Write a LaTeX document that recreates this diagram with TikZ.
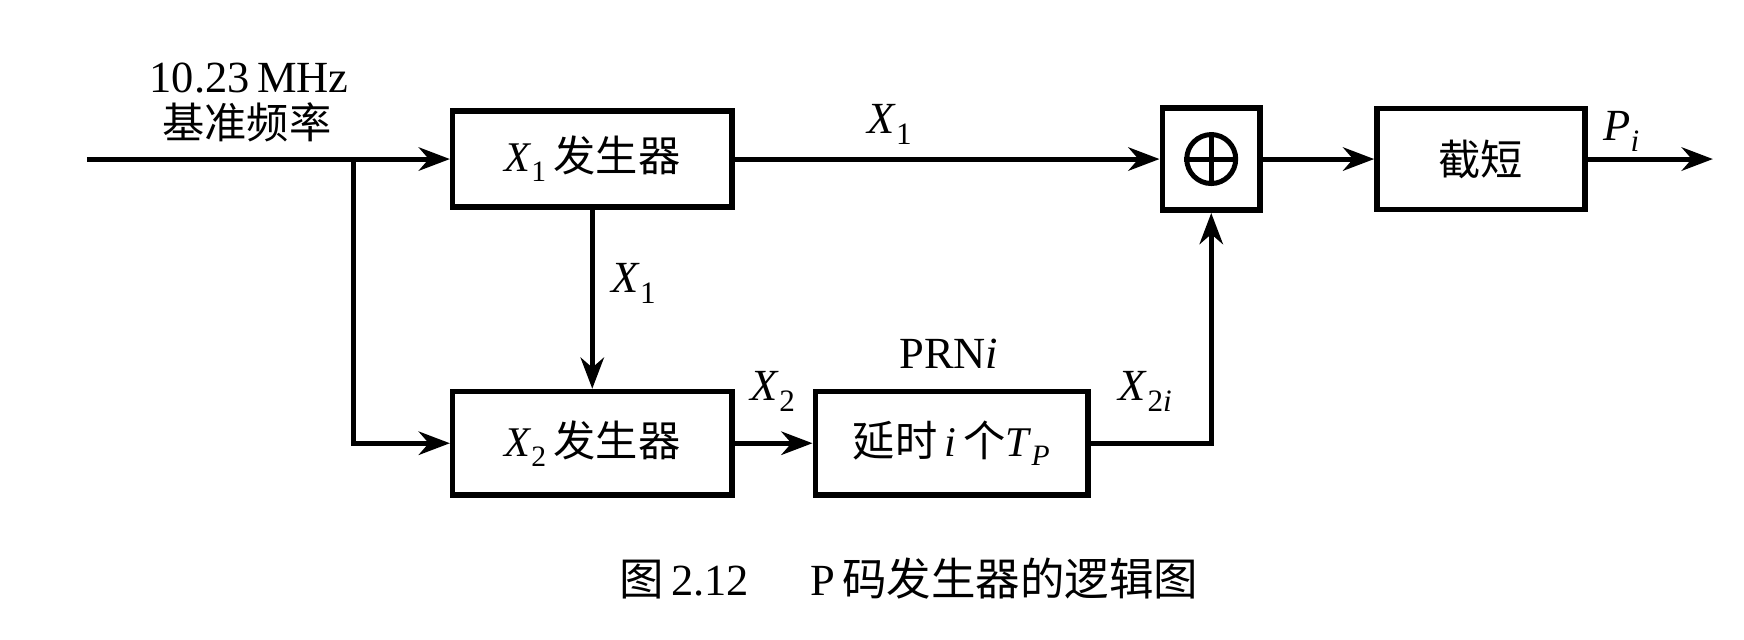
\documentclass[tikz,border=0pt]{standalone}
\usepackage{fontspec}
\setmainfont{Liberation Serif}
\newfontfamily\cjk{Noto Sans CJK SC}
\usetikzlibrary{arrows.meta}
\newcommand{\Vsub}[2]{\textit{#1}\textsubscript{#2}}
\begin{document}
\begin{tikzpicture}[x=1pt,y=-1pt,
  font=\fontsize{40}{48}\selectfont,
  blk/.style={draw, line width=5pt, inner sep=0pt, font=\fontsize{38}{46}\selectfont},
  wire/.style={line width=4.5pt},
  arr/.style={line width=4.5pt, -{Stealth[length=28pt,width=21pt,inset=9pt]}},
  lbl/.style={inner sep=0pt}]
\useasboundingbox (0,0) rectangle (1568,575);
% blocks
\node[blk, minimum width=251pt, minimum height=86pt] (g1) at (532.5,143) {\Vsub{X}{1}\,{\cjk 发生器}};
\node[blk, minimum width=88pt, minimum height=92pt] (xor) at (1089,143) {};
\node[blk, minimum width=187pt, minimum height=91pt] (cut) at (1331.5,143) {{\cjk 截短}};
\node[blk, minimum width=251pt, minimum height=93pt] (g2) at (532.5,398.5) {\Vsub{X}{2}\,{\cjk 发生器}};
\node[blk, minimum width=245pt, minimum height=93pt] (dly) at (855.5,398.5) {{\cjk 延时}\,\textit{i}\,{\cjk 个}\textit{T}\textsubscript{\textit{P}}};
% circle plus
\node[circle, draw, line width=4.5pt, minimum size=44pt, inner sep=0pt] (cp) at (xor.center) {};
\draw[wire] (cp.north) -- (cp.south);
\draw[wire] (cp.west) -- (cp.east);
% coordinates
\coordinate (in) at (78,143);
\coordinate (j) at (318,143);
\coordinate (out) at (1540,143);
% connectors
\draw[arr] (in) -- (g1.west);
\draw[arr] (j) |- (g2.west);
\draw[arr] (g1.east) -- (xor.west);
\draw[arr] (xor.east) -- (cut.west);
\draw[arr] (cut.east) -- (out);
\draw[arr] (g1.south) -- (g2.north);
\draw[arr] (g2.east) -- (dly.west);
\draw[arr] (dly.east) -| (xor.south);
% labels
\node[lbl] (lfreq) at (224,70) {10.23\,MHz};
\node[lbl, font=\fontsize{38}{46}\selectfont] (lbase) at (222,110) {{\cjk 基准频率}};
\node[lbl] (lx1a) at (800,112) {\Vsub{X}{1}};
\node[lbl] (lpi) at (1458,118) {\textit{P}\textsubscript{\textit{i}}};
\node[lbl] (lx1b) at (570,255) {\Vsub{X}{1}};
\node[lbl] (lx2) at (695,352) {\Vsub{X}{2}};
\node[lbl] (lprn) at (853,318) {PRN\textit{i}};
\node[lbl] (lx2i) at (1030,352) {\textit{X}\textsubscript{2\textit{i}}};
\node[lbl] (cap) at (817,520) {{\cjk 图}\,2.12\hspace{55pt}P\,{\cjk 码发生器的逻辑图}};
\end{tikzpicture}
\end{document}
